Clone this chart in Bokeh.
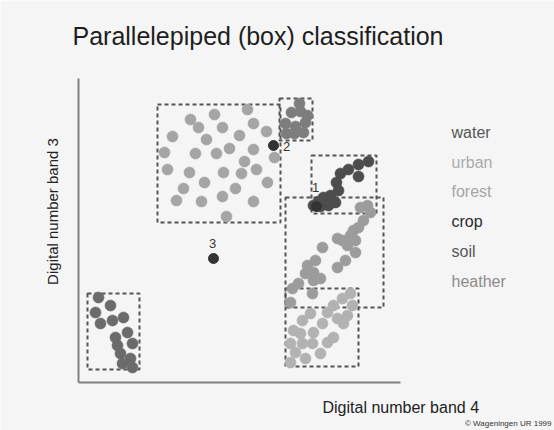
import math
from bokeh.plotting import figure
from bokeh.models import Range1d, ColumnDataSource
from bokeh.core.properties import value
from bokeh.embed import file_html
from bokeh.resources import INLINE

# ---- data (digital numbers, band 4 on x, band 3 on y) ----
water_b4 = [20, 32, 17, 22, 34, 45, 49, 37, 39, 54, 42, 52, 44, 54]
water_b3 = [85, 77, 70, 59, 62, 65, 50, 45, 37, 39, 29, 24, 19, 15]

urban_b4 = [112, 136, 169, 120, 144, 175, 188, 94, 128, 161, 86, 117, 138, 151, 175, 196,
            166, 89, 111, 145, 163, 178, 105, 126, 157, 189, 98, 123, 144, 175, 148]
urban_b3 = [263, 268, 273, 255, 255, 259, 251, 246, 243, 247, 230, 229, 229, 234, 233, 225,
            221, 213, 210, 210, 209, 213, 194, 200, 194, 200, 182, 181, 186, 181, 166]

soil_b4 = [221, 213, 222, 229, 227, 207, 217, 208, 216, 225]
soil_b3 = [279, 270, 271, 267, 260, 259, 256, 249, 249, 250]

crop_b4 = [290, 280, 270, 262, 280, 258, 260, 252, 245, 257, 250, 235, 242, 240]
crop_b3 = [221, 218, 213, 209, 206, 200, 192, 187, 185, 180, 177, 177, 176, 181]

forest_b4 = [289, 282, 292, 285, 280, 275, 272, 277, 264, 259, 269, 277, 244, 267, 259,
             237, 229, 227, 235, 242, 220, 214, 234, 212, 235]
forest_b3 = [177, 175, 170, 162, 155, 152, 147, 142, 142, 144, 137, 130, 135, 122, 115,
             122, 117, 109, 110, 104, 99, 94, 89, 80, 102]

heather_b4 = [272, 264, 274, 255, 232, 249, 224, 259, 269, 244, 215, 235, 265, 255, 222,
              212, 224, 234, 249, 217, 242, 227, 212]
heather_b3 = [89, 84, 77, 77, 69, 70, 62, 64, 67, 59, 52, 50, 59, 45, 49,
              39, 39, 39, 40, 30, 29, 24, 20]

# class boxes: min/max band 4, min/max band 3
box_names = ["water", "urban", "soil", "crop", "forest", "heather"]
box_b4_min = [9, 79, 201, 233, 207, 207]
box_b4_max = [61, 202, 234, 298, 305, 280]
box_b3_min = [13, 160, 242, 169, 75, 16]
box_b3_max = [89, 278, 284, 227, 185, 94]

# unknown pixels to classify
unk_labels = ["1", "2", "3"]
unk_b4 = [238, 195, 135]
unk_b3 = [176, 237, 124]

legend_names = ["water", "urban", "forest", "crop", "soil", "heather"]
legend_colors = ["#555555", "#ababab", "#a5a5a5", "#2a2a2a", "#555555", "#8c8c8c"]

FONT = "Liberation Sans"
BG = "#f5f5f5"

p = figure(width=554, height=430, x_range=Range1d(-78, 476), y_range=Range1d(-48, 382),
           x_axis_type=None, y_axis_type=None, toolbar_location=None,
           output_backend="svg", min_border=0)
p.background_fill_color = BG
p.border_fill_color = BG
p.outline_line_color = None
p.grid.visible = False

# axes lines
p.segment(x0=[0, 0], y0=[0, 0], x1=[322, 0], y1=[0, 304], line_color="#808080", line_width=2)

# boxes
p.quad(left=box_b4_min, right=box_b4_max, bottom=box_b3_min, top=box_b3_max,
       fill_color=None, line_color="#555555", line_width=2, line_dash="4 3")

groups = [
    (water_b4, water_b3, "#6b6b6b"),
    (urban_b4, urban_b3, "#a5a5a5"),
    (soil_b4, soil_b3, "#7d7d7d"),
    (crop_b4, crop_b3, "#4d4d4d"),
    (forest_b4, forest_b3, "#9c9c9c"),
    (heather_b4, heather_b3, "#b2b2b2"),
]
for xs, ys, c in groups:
    p.scatter(xs, ys, size=11, fill_color=c, line_color=c, line_alpha=0.6)

p.scatter(unk_b4, unk_b3, size=10, fill_color="#333333", line_color="#333333")
lab_dx = [-1, 13, -1]
lab_dy = [19, -1, 15]
p.text(x=[a + b for a, b in zip(unk_b4, lab_dx)], y=[a + b for a, b in zip(unk_b3, lab_dy)],
       text=unk_labels, text_font=value(FONT), text_font_size="13px", text_color="#333333",
       text_align="center", text_baseline="middle")

# legend text
leg_src = ColumnDataSource(dict(x=[373] * 6, y=[250, 220, 191, 161, 131, 101],
                                t=legend_names, c=legend_colors))
p.text(x="x", y="y", text="t", text_color="c", source=leg_src, text_font=value(FONT),
       text_font_size="16px", text_baseline="alphabetic", text_align="left")

# title and axis labels
p.text(x=[-6], y=[347], text=["Parallelepiped (box)  classification"], text_font=value(FONT),
       text_font_size="25px", text_color="#1e1e1e",
       text_baseline="alphabetic", text_align="left")
p.text(x=[244], y=[-25], text=["Digital number band 4"], text_font=value(FONT),
       text_font_size="16px", text_color="#222222", text_baseline="alphabetic", text_align="left")
p.text(x=[-26], y=[171], text=["Digital number band 3"], text_font=value(FONT),
       text_font_size="15px", text_color="#222222", text_baseline="middle", text_align="center",
       angle=math.pi / 2)
p.text(x=[473], y=[-41], text=["© Wageningen UR 1999"], text_font=value(FONT),
       text_font_size="8px", text_color="#333333", text_baseline="alphabetic", text_align="right")

open("out.html", "w").write(file_html(p, INLINE))
